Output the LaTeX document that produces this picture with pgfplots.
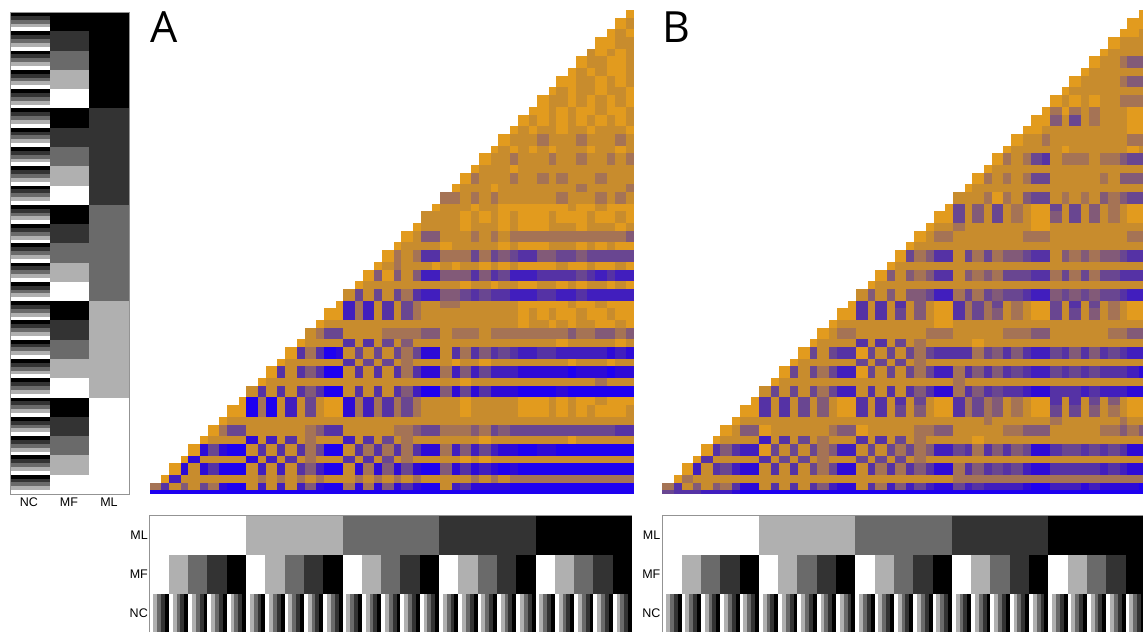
\documentclass[border=0pt]{standalone}
\usepackage{fontspec}
\setmainfont{Liberation Sans}
\newfontfamily\lettfont{Open Sans}
\usepackage{pgfplots}
\usepackage{pgfplotstable}
\pgfplotsset{compat=1.18}
\pgfdeclareplotmark{cell}{\pgfpathrectangle{\pgfqpoint{0pt}{0pt}}{\pgfpoint{\cw pt}{\hh pt}}\pgfusepathqfill}
\pgfplotsset{
  cmap ob/.style={colormap={ob}{rgb255=(30,0,240) rgb255=(45,10,215) rgb255=(65,30,190) rgb255=(85,50,165) rgb255=(105,70,145) rgb255=(130,90,120) rgb255=(165,115,85) rgb255=(200,140,45) rgb255=(226,155,30)},point meta min=0,point meta max=8},
  cmap gy/.style={colormap={gy}{rgb255=(255,255,255) rgb255=(176,176,176) rgb255=(106,106,106) rgb255=(51,51,51) rgb255=(0,0,0)},point meta min=0,point meta max=4},
}
% levels of the three factors, one line per index 0..124: NC MF ML
\pgfplotstableread[header=false]{
0 0 0
1 0 0
2 0 0
3 0 0
4 0 0
0 1 0
1 1 0
2 1 0
3 1 0
4 1 0
0 2 0
1 2 0
2 2 0
3 2 0
4 2 0
0 3 0
1 3 0
2 3 0
3 3 0
4 3 0
0 4 0
1 4 0
2 4 0
3 4 0
4 4 0
0 0 1
1 0 1
2 0 1
3 0 1
4 0 1
0 1 1
1 1 1
2 1 1
3 1 1
4 1 1
0 2 1
1 2 1
2 2 1
3 2 1
4 2 1
0 3 1
1 3 1
2 3 1
3 3 1
4 3 1
0 4 1
1 4 1
2 4 1
3 4 1
4 4 1
0 0 2
1 0 2
2 0 2
3 0 2
4 0 2
0 1 2
1 1 2
2 1 2
3 1 2
4 1 2
0 2 2
1 2 2
2 2 2
3 2 2
4 2 2
0 3 2
1 3 2
2 3 2
3 3 2
4 3 2
0 4 2
1 4 2
2 4 2
3 4 2
4 4 2
0 0 3
1 0 3
2 0 3
3 0 3
4 0 3
0 1 3
1 1 3
2 1 3
3 1 3
4 1 3
0 2 3
1 2 3
2 2 3
3 2 3
4 2 3
0 3 3
1 3 3
2 3 3
3 3 3
4 3 3
0 4 3
1 4 3
2 4 3
3 4 3
4 4 3
0 0 4
1 0 4
2 0 4
3 0 4
4 0 4
0 1 4
1 1 4
2 1 4
3 1 4
4 1 4
0 2 4
1 2 4
2 2 4
3 2 4
4 2 4
0 3 4
1 3 4
2 3 4
3 3 4
4 3 4
0 4 4
1 4 4
2 4 4
3 4 4
4 4 4
}\levels
% columns: bottom row, rows covered, then 50 column bands (0 blue .. 8 orange; 9 = above the diagonal, not drawn)
\pgfplotstableread[header=false]{
123 2 9 9 9 9 9 9 9 9 9 9 9 9 9 9 9 9 9 9 9 9 9 9 9 9 9 9 9 9 9 9 9 9 9 9 9 9 9 9 9 9 9 9 9 9 9 9 9 9 9 8
120 3 9 9 9 9 9 9 9 9 9 9 9 9 9 9 9 9 9 9 9 9 9 9 9 9 9 9 9 9 9 9 9 9 9 9 9 9 9 9 9 9 9 9 9 9 9 9 9 9 8 7
118 2 9 9 9 9 9 9 9 9 9 9 9 9 9 9 9 9 9 9 9 9 9 9 9 9 9 9 9 9 9 9 9 9 9 9 9 9 9 9 9 9 9 9 9 9 9 9 9 8 7 8
115 3 9 9 9 9 9 9 9 9 9 9 9 9 9 9 9 9 9 9 9 9 9 9 9 9 9 9 9 9 9 9 9 9 9 9 9 9 9 9 9 9 9 9 9 9 9 9 8 8 7 7
113 2 9 9 9 9 9 9 9 9 9 9 9 9 9 9 9 9 9 9 9 9 9 9 9 9 9 9 9 9 9 9 9 9 9 9 9 9 9 9 9 9 9 9 9 9 9 7 8 7 8 7
110 3 9 9 9 9 9 9 9 9 9 9 9 9 9 9 9 9 9 9 9 9 9 9 9 9 9 9 9 9 9 9 9 9 9 9 9 9 9 9 9 9 9 9 9 9 8 7 7 8 8 7
108 2 9 9 9 9 9 9 9 9 9 9 9 9 9 9 9 9 9 9 9 9 9 9 9 9 9 9 9 9 9 9 9 9 9 9 9 9 9 9 9 9 9 9 9 8 7 8 7 8 8 7
105 3 9 9 9 9 9 9 9 9 9 9 9 9 9 9 9 9 9 9 9 9 9 9 9 9 9 9 9 9 9 9 9 9 9 9 9 9 9 9 9 9 9 9 8 8 7 7 8 7 8 7
103 2 9 9 9 9 9 9 9 9 9 9 9 9 9 9 9 9 9 9 9 9 9 9 9 9 9 9 9 9 9 9 9 9 9 9 9 9 9 9 9 9 9 8 7 8 7 7 8 7 7 8
100 3 9 9 9 9 9 9 9 9 9 9 9 9 9 9 9 9 9 9 9 9 9 9 9 9 9 9 9 9 9 9 9 9 9 9 9 9 9 9 9 9 8 7 7 8 7 8 7 8 7 8
98 2 9 9 9 9 9 9 9 9 9 9 9 9 9 9 9 9 9 9 9 9 9 9 9 9 9 9 9 9 9 9 9 9 9 9 9 9 9 9 9 8 8 7 8 7 8 8 7 8 8 7
95 3 9 9 9 9 9 9 9 9 9 9 9 9 9 9 9 9 9 9 9 9 9 9 9 9 9 9 9 9 9 9 9 9 9 9 9 9 9 9 8 7 8 7 8 7 8 7 8 7 8 7
93 2 9 9 9 9 9 9 9 9 9 9 9 9 9 9 9 9 9 9 9 9 9 9 9 9 9 9 9 9 9 9 9 9 9 9 9 9 9 8 7 8 7 7 8 7 7 8 7 7 7 8
90 3 9 9 9 9 9 9 9 9 9 9 9 9 9 9 9 9 9 9 9 9 9 9 9 9 9 9 9 9 9 9 9 9 9 9 9 9 8 7 7 7 6 7 7 7 6 7 7 7 6 7
88 2 9 9 9 9 9 9 9 9 9 9 9 9 9 9 9 9 9 9 9 9 9 9 9 9 9 9 9 9 9 9 9 9 9 9 9 8 7 8 7 8 7 8 7 7 7 8 7 7 8 7
85 3 9 9 9 9 9 9 9 9 9 9 9 9 9 9 9 9 9 9 9 9 9 9 9 9 9 9 9 9 9 9 9 9 9 9 8 7 7 6 7 7 7 6 7 7 6 7 7 6 7 6
83 2 9 9 9 9 9 9 9 9 9 9 9 9 9 9 9 9 9 9 9 9 9 9 9 9 9 9 9 9 9 9 9 9 9 8 7 7 7 8 7 7 7 7 7 7 7 7 7 7 7 7
80 3 9 9 9 9 9 9 9 9 9 9 9 9 9 9 9 9 9 9 9 9 9 9 9 9 9 9 9 9 9 9 9 9 8 6 7 7 7 6 7 7 6 7 6 7 7 7 6 7 7 7
78 2 9 9 9 9 9 9 9 9 9 9 9 9 9 9 9 9 9 9 9 9 9 9 9 9 9 9 9 9 9 9 9 8 7 7 7 8 7 7 7 7 7 7 7 7 6 7 7 7 7 6
75 3 9 9 9 9 9 9 9 9 9 9 9 9 9 9 9 9 9 9 9 9 9 9 9 9 9 9 9 9 9 9 6 6 7 6 7 6 7 7 7 7 7 7 6 7 7 7 6 7 6 7
73 2 9 9 9 9 9 9 9 9 9 9 9 9 9 9 9 9 9 9 9 9 9 9 9 9 9 9 9 9 9 8 7 7 7 8 7 7 8 8 8 8 8 8 8 7 8 8 7 8 8 8
70 3 9 9 9 9 9 9 9 9 9 9 9 9 9 9 9 9 9 9 9 9 9 9 9 9 9 9 9 9 7 7 7 7 8 7 8 7 8 7 8 8 8 7 8 8 8 7 8 8 7 8
68 2 9 9 9 9 9 9 9 9 9 9 9 9 9 9 9 9 9 9 9 9 9 9 9 9 9 9 9 8 7 7 7 7 8 7 7 7 8 7 8 8 8 7 7 7 8 7 7 7 8 7
65 3 9 9 9 9 9 9 9 9 9 9 9 9 9 9 9 9 9 9 9 9 9 9 9 9 9 9 8 7 5 5 7 7 7 6 7 6 7 6 6 6 6 6 6 6 6 6 6 6 6 5
63 2 9 9 9 9 9 9 9 9 9 9 9 9 9 9 9 9 9 9 9 9 9 9 9 9 9 8 7 7 7 7 8 7 7 7 7 7 8 7 8 8 8 7 7 7 8 7 8 7 8 8
60 3 9 9 9 9 9 9 9 9 9 9 9 9 9 9 9 9 9 9 9 9 9 9 9 9 8 6 7 6 3 3 6 6 6 4 6 4 5 4 3 3 5 5 4 4 5 4 4 4 4 4
58 2 9 9 9 9 9 9 9 9 9 9 9 9 9 9 9 9 9 9 9 9 9 9 9 8 7 6 7 7 7 8 7 8 7 7 8 7 8 7 8 8 8 8 7 8 8 7 8 8 7 8
55 3 9 9 9 9 9 9 9 9 9 9 9 9 9 9 9 9 9 9 9 9 9 9 8 5 8 5 7 5 2 2 5 5 5 3 5 3 4 2 2 2 3 3 3 3 4 3 2 3 2 2
53 2 9 9 9 9 9 9 9 9 9 9 9 9 9 9 9 9 9 9 9 9 9 8 7 7 7 7 7 7 7 7 7 7 8 7 7 8 7 7 8 8 7 7 8 7 8 7 7 8 7 8
50 3 9 9 9 9 9 9 9 9 9 9 9 9 9 9 9 9 9 9 9 9 7 4 7 4 7 4 6 3 2 2 5 5 4 3 4 3 3 2 2 2 3 3 2 2 3 2 2 2 2 2
48 2 9 9 9 9 9 9 9 9 9 9 9 9 9 9 9 9 9 9 9 8 2 6 2 7 3 7 4 6 7 7 6 6 7 7 7 7 7 7 8 8 8 8 8 7 8 8 7 8 8 8
45 3 9 9 9 9 9 9 9 9 9 9 9 9 9 9 9 9 9 9 8 8 2 6 2 7 3 7 4 6 7 7 7 7 7 7 7 7 7 7 8 7 8 7 8 8 7 8 8 7 8 8
43 2 9 9 9 9 9 9 9 9 9 9 9 9 9 9 9 9 9 8 7 7 7 7 7 7 7 7 7 7 7 7 7 7 7 7 7 7 7 7 8 7 7 8 7 8 7 7 8 8 7 8
40 3 9 9 9 9 9 9 9 9 9 9 9 9 9 9 9 9 7 6 4 4 7 7 7 7 6 6 6 6 5 5 7 6 6 6 7 6 6 6 6 6 6 6 6 5 6 6 5 5 6 5
38 2 9 9 9 9 9 9 9 9 9 9 9 9 9 9 9 8 7 7 7 7 3 7 3 7 4 7 5 7 7 7 7 7 7 7 7 7 7 7 7 7 7 7 8 7 7 7 7 7 8 7
35 3 9 9 9 9 9 9 9 9 9 9 9 9 9 9 8 3 6 3 0 1 7 4 7 4 7 4 6 4 1 1 7 3 6 3 5 3 4 3 2 2 3 3 2 2 2 2 2 1 2 1
33 2 9 9 9 9 9 9 9 9 9 9 9 9 9 8 7 7 7 7 7 7 3 7 4 7 4 7 6 7 7 7 7 8 7 7 8 7 7 7 7 7 7 7 7 8 7 7 7 8 7 7
30 3 9 9 9 9 9 9 9 9 9 9 9 9 8 3 7 3 5 3 0 0 7 3 7 3 7 3 6 3 1 1 6 2 5 2 4 2 2 2 1 1 1 1 1 0 1 1 1 0 1 1
28 2 9 9 9 9 9 9 9 9 9 9 9 8 7 7 7 7 7 7 7 7 7 7 7 7 7 7 7 7 7 7 7 7 8 7 7 7 7 7 7 7 7 7 7 7 7 7 6 7 7 7
25 3 9 9 9 9 9 9 9 9 9 9 7 3 7 3 7 3 5 3 0 0 7 3 7 3 7 3 5 2 0 0 5 1 4 1 3 1 1 1 0 0 0 0 1 0 0 0 0 0 0 0
23 2 9 9 9 9 9 9 9 9 9 8 0 6 0 7 2 7 4 7 8 8 1 6 2 6 3 6 4 6 7 7 7 7 8 7 7 7 7 7 8 8 8 7 8 7 8 8 7 8 8 8
20 3 9 9 9 9 9 9 9 9 8 8 0 6 0 7 2 7 4 7 8 8 1 6 2 6 3 6 4 6 7 7 7 7 8 7 7 7 7 7 8 8 8 7 8 7 8 7 8 8 8 7
18 2 9 9 9 9 9 9 9 8 7 7 7 7 7 7 7 7 7 7 7 7 7 7 7 7 7 7 7 7 7 7 7 7 7 7 7 7 7 7 7 7 7 7 7 7 7 7 7 7 7 7
15 3 9 9 9 9 9 9 8 6 4 4 7 7 7 7 7 7 6 5 3 3 7 7 7 7 7 6 6 5 4 4 6 6 6 5 6 4 5 4 4 4 4 4 4 4 4 4 4 4 3 3
13 2 9 9 9 9 9 8 7 7 7 7 1 7 2 7 3 7 6 7 7 7 2 7 3 7 4 7 6 7 7 7 7 7 7 7 8 7 7 7 7 7 7 7 7 8 7 7 7 7 7 7
10 3 9 9 9 9 8 1 4 1 0 0 7 3 7 3 7 3 6 4 0 0 7 3 6 3 6 3 6 3 1 1 6 2 5 2 4 2 1 1 0 0 1 1 0 0 0 0 0 0 0 0
8 2 9 9 9 8 1 7 7 7 7 7 1 7 2 7 3 7 6 7 7 7 3 7 3 7 4 7 6 7 7 7 7 7 8 7 8 7 7 7 7 7 7 7 7 7 7 7 7 7 7 7
5 3 9 9 8 1 7 1 3 0 0 0 7 2 7 2 7 3 5 2 0 0 7 1 6 1 5 1 4 1 0 0 5 1 3 1 2 1 0 1 0 0 0 0 0 0 0 0 0 0 0 0
3 2 9 8 2 7 7 7 7 7 7 7 7 6 7 6 7 6 7 6 7 7 7 6 7 6 7 6 7 6 7 7 7 7 7 6 7 6 7 6 6 6 6 6 6 6 6 6 6 6 6 6
1 2 6 3 7 5 7 4 6 1 0 0 7 2 7 2 7 2 5 1 0 0 6 1 6 1 5 1 3 1 0 0 7 2 3 1 1 1 1 0 0 0 0 0 0 0 0 0 0 0 0 0
0 1 0 0 0 0 0 0 0 0 0 0 0 0 0 0 0 0 0 0 0 0 0 0 0 0 0 0 0 0 0 0 0 0 0 0 0 0 0 0 0 0 0 0 0 0 0 0 0 0 0 0
}\tblA
\pgfplotstableread[header=false]{
123 2 9 9 9 9 9 9 9 9 9 9 9 9 9 9 9 9 9 9 9 9 9 9 9 9 9 9 9 9 9 9 9 9 9 9 9 9 9 9 9 9 9 9 9 9 9 9 9 9 9 8
120 3 9 9 9 9 9 9 9 9 9 9 9 9 9 9 9 9 9 9 9 9 9 9 9 9 9 9 9 9 9 9 9 9 9 9 9 9 9 9 9 9 9 9 9 9 9 9 9 9 8 8
118 2 9 9 9 9 9 9 9 9 9 9 9 9 9 9 9 9 9 9 9 9 9 9 9 9 9 9 9 9 9 9 9 9 9 9 9 9 9 9 9 9 9 9 9 9 9 9 9 8 8 7
115 3 9 9 9 9 9 9 9 9 9 9 9 9 9 9 9 9 9 9 9 9 9 9 9 9 9 9 9 9 9 9 9 9 9 9 9 9 9 9 9 9 9 9 9 9 9 9 8 7 7 7
113 2 9 9 9 9 9 9 9 9 9 9 9 9 9 9 9 9 9 9 9 9 9 9 9 9 9 9 9 9 9 9 9 9 9 9 9 9 9 9 9 9 9 9 9 9 9 8 7 7 7 7
110 3 9 9 9 9 9 9 9 9 9 9 9 9 9 9 9 9 9 9 9 9 9 9 9 9 9 9 9 9 9 9 9 9 9 9 9 9 9 9 9 9 9 9 9 9 8 7 7 6 5 5
108 2 9 9 9 9 9 9 9 9 9 9 9 9 9 9 9 9 9 9 9 9 9 9 9 9 9 9 9 9 9 9 9 9 9 9 9 9 9 9 9 9 9 9 9 8 7 7 7 7 7 7
105 3 9 9 9 9 9 9 9 9 9 9 9 9 9 9 9 9 9 9 9 9 9 9 9 9 9 9 9 9 9 9 9 9 9 9 9 9 9 9 9 9 9 9 8 7 7 7 7 6 5 5
103 2 9 9 9 9 9 9 9 9 9 9 9 9 9 9 9 9 9 9 9 9 9 9 9 9 9 9 9 9 9 9 9 9 9 9 9 9 9 9 9 9 9 8 7 7 7 7 7 7 7 7
100 3 9 9 9 9 9 9 9 9 9 9 9 9 9 9 9 9 9 9 9 9 9 9 9 9 9 9 9 9 9 9 9 9 9 9 9 9 9 9 9 9 8 7 8 7 8 7 7 6 6 6
98 2 9 9 9 9 9 9 9 9 9 9 9 9 9 9 9 9 9 9 9 9 9 9 9 9 9 9 9 9 9 9 9 9 9 9 9 9 9 9 9 8 6 8 6 7 6 7 7 7 8 8
95 3 9 9 9 9 9 9 9 9 9 9 9 9 9 9 9 9 9 9 9 9 9 9 9 9 9 9 9 9 9 9 9 9 9 9 9 9 9 9 8 8 5 7 4 7 6 7 7 7 8 8
93 2 9 9 9 9 9 9 9 9 9 9 9 9 9 9 9 9 9 9 9 9 9 9 9 9 9 9 9 9 9 9 9 9 9 9 9 9 9 8 8 7 7 7 7 7 7 7 7 7 8 8
90 3 9 9 9 9 9 9 9 9 9 9 9 9 9 9 9 9 9 9 9 9 9 9 9 9 9 9 9 9 9 9 9 9 9 9 9 9 8 7 7 6 7 7 7 7 7 7 7 7 6 6
88 2 9 9 9 9 9 9 9 9 9 9 9 9 9 9 9 9 9 9 9 9 9 9 9 9 9 9 9 9 9 9 9 9 9 9 9 8 7 7 7 7 7 8 7 7 7 7 7 7 8 7
85 3 9 9 9 9 9 9 9 9 9 9 9 9 9 9 9 9 9 9 9 9 9 9 9 9 9 9 9 9 9 9 9 9 9 9 8 6 7 6 4 3 7 6 6 6 7 6 6 5 4 4
83 2 9 9 9 9 9 9 9 9 9 9 9 9 9 9 9 9 9 9 9 9 9 9 9 9 9 9 9 9 9 9 9 9 9 8 7 7 7 7 7 7 7 7 7 7 7 7 7 7 7 7
80 3 9 9 9 9 9 9 9 9 9 9 9 9 9 9 9 9 9 9 9 9 9 9 9 9 9 9 9 9 9 9 9 9 8 6 7 6 7 6 4 4 7 7 7 7 7 6 7 5 5 5
78 2 9 9 9 9 9 9 9 9 9 9 9 9 9 9 9 9 9 9 9 9 9 9 9 9 9 9 9 9 9 9 9 8 7 7 7 7 7 7 7 7 7 7 7 7 7 7 7 7 7 7
75 3 9 9 9 9 9 9 9 9 9 9 9 9 9 9 9 9 9 9 9 9 9 9 9 9 9 9 9 9 9 9 7 7 7 6 8 6 7 5 4 4 7 6 7 6 7 5 6 5 4 4
73 2 9 9 9 9 9 9 9 9 9 9 9 9 9 9 9 9 9 9 9 9 9 9 9 9 9 9 9 9 9 8 4 7 5 7 4 7 6 7 8 8 4 7 4 7 5 7 6 7 8 8
70 3 9 9 9 9 9 9 9 9 9 9 9 9 9 9 9 9 9 9 9 9 9 9 9 9 9 9 9 9 8 8 4 7 5 7 4 7 6 7 8 8 5 7 4 7 5 7 6 7 8 8
68 2 9 9 9 9 9 9 9 9 9 9 9 9 9 9 9 9 9 9 9 9 9 9 9 9 9 9 9 8 7 7 6 7 7 7 7 7 7 7 8 8 7 7 7 7 7 7 7 7 7 7
65 3 9 9 9 9 9 9 9 9 9 9 9 9 9 9 9 9 9 9 9 9 9 9 9 9 9 9 8 7 6 6 7 7 7 7 7 7 7 6 6 6 7 7 7 7 7 7 7 7 6 6
63 2 9 9 9 9 9 9 9 9 9 9 9 9 9 9 9 9 9 9 9 9 9 9 9 9 9 8 7 7 7 7 7 7 7 7 7 7 7 7 7 7 7 7 7 7 7 7 7 7 7 7
60 3 9 9 9 9 9 9 9 9 9 9 9 9 9 9 9 9 9 9 9 9 9 9 9 9 8 4 6 5 3 3 7 4 6 4 6 5 5 4 3 3 7 5 6 5 6 5 5 4 3 3
58 2 9 9 9 9 9 9 9 9 9 9 9 9 9 9 9 9 9 9 9 9 9 9 9 8 7 7 7 7 7 7 7 7 7 7 7 7 7 7 7 7 7 7 7 7 7 7 7 7 7 7
55 3 9 9 9 9 9 9 9 9 9 9 9 9 9 9 9 9 9 9 9 9 9 9 8 5 7 5 6 5 3 3 7 5 6 5 6 4 4 4 3 3 6 4 6 4 6 4 4 3 3 3
53 2 9 9 9 9 9 9 9 9 9 9 9 9 9 9 9 9 9 9 9 9 9 8 7 7 7 7 7 7 7 7 7 7 7 7 7 7 7 7 7 7 7 7 7 7 7 7 7 7 7 7
50 3 9 9 9 9 9 9 9 9 9 9 9 9 9 9 9 9 9 9 9 9 7 5 7 5 7 5 5 4 2 2 6 4 6 4 5 4 4 3 2 2 5 4 5 4 5 4 4 3 2 2
48 2 9 9 9 9 9 9 9 9 9 9 9 9 9 9 9 9 9 9 9 8 3 7 3 7 3 7 5 7 8 8 3 6 4 6 4 7 6 7 8 8 4 7 3 7 4 7 6 7 8 8
45 3 9 9 9 9 9 9 9 9 9 9 9 9 9 9 9 9 9 9 8 8 3 7 3 7 4 7 5 7 8 8 3 6 4 6 5 7 6 7 8 8 4 7 4 7 5 7 6 7 8 8
43 2 9 9 9 9 9 9 9 9 9 9 9 9 9 9 9 9 9 8 7 7 7 7 7 7 7 7 7 7 8 8 7 7 7 7 7 7 7 7 7 7 7 7 7 7 7 7 7 7 7 7
40 3 9 9 9 9 9 9 9 9 9 9 9 9 9 9 9 9 8 7 6 6 7 7 7 7 7 7 7 6 6 6 7 7 7 7 7 6 6 6 5 5 7 7 7 7 7 7 6 6 5 5
38 2 9 9 9 9 9 9 9 9 9 9 9 9 9 9 9 8 7 7 7 7 3 7 3 7 4 7 6 7 7 7 7 7 8 7 7 7 7 7 7 7 7 7 7 7 7 7 7 7 7 7
35 3 9 9 9 9 9 9 9 9 9 9 9 9 9 9 8 4 7 4 3 3 8 4 7 4 7 4 6 4 3 3 3 3 6 4 5 3 5 3 2 2 4 3 5 3 5 3 4 3 2 2
33 2 9 9 9 9 9 9 9 9 9 9 9 9 9 8 7 7 7 7 7 7 4 7 4 7 4 7 6 7 7 7 7 7 7 7 7 7 7 7 7 7 7 7 7 7 7 7 7 7 7 7
30 3 9 9 9 9 9 9 9 9 9 9 9 9 8 4 7 4 6 4 2 2 8 4 7 4 7 4 6 4 2 2 6 3 5 3 5 3 4 3 2 2 4 3 4 3 4 3 3 3 2 1
28 2 9 9 9 9 9 9 9 9 9 9 9 8 7 7 7 7 7 7 7 7 7 7 7 7 7 7 7 7 7 7 6 7 7 7 7 7 7 7 7 7 7 7 7 7 7 7 7 7 7 7
25 3 9 9 9 9 9 9 9 9 9 9 7 4 7 4 7 4 6 4 2 2 7 3 7 3 7 3 5 3 1 1 6 3 5 3 4 3 3 2 1 1 3 3 3 2 3 2 2 2 1 1
23 2 9 9 9 9 9 9 9 9 9 8 3 7 3 7 4 7 5 7 8 8 3 7 3 7 3 7 4 7 8 8 3 6 4 6 5 7 6 7 8 8 3 7 3 7 4 7 5 7 8 8
20 3 9 9 9 9 9 9 9 9 8 8 3 7 3 7 4 7 5 7 8 8 3 7 3 7 4 7 5 7 8 8 3 6 4 6 5 7 6 7 8 8 4 7 4 7 5 7 6 7 8 8
18 2 9 9 9 9 9 9 9 8 7 7 7 7 7 7 7 7 7 7 7 7 7 7 7 7 7 7 7 7 7 7 7 7 7 6 7 7 7 7 7 7 6 7 7 7 7 7 7 6 7 7
15 3 9 9 9 9 9 9 8 7 5 5 8 7 7 7 7 7 7 6 5 5 8 7 7 7 7 7 6 6 5 5 7 7 7 7 7 6 6 5 5 5 7 7 7 7 7 6 6 5 6 5
13 2 9 9 9 9 9 8 7 7 7 7 2 7 3 7 4 7 6 7 7 7 3 7 3 7 4 7 6 7 7 7 7 7 8 7 7 7 7 7 7 7 7 7 7 7 7 7 7 7 7 7
10 3 9 9 9 9 8 3 5 3 2 2 8 4 7 4 7 4 6 5 2 2 7 4 7 4 6 4 6 5 2 2 4 3 6 3 5 3 5 4 1 1 3 4 4 3 4 3 4 3 1 1
8 2 9 9 9 8 3 7 7 7 7 7 3 7 4 7 4 7 6 7 7 7 4 7 4 7 4 7 6 7 7 7 7 7 7 7 7 7 7 7 7 7 7 7 7 7 7 7 7 7 7 7
5 3 9 9 8 2 7 3 4 2 1 1 7 3 7 3 7 4 6 4 1 1 7 3 6 3 6 3 5 3 1 1 6 3 5 3 4 3 4 2 1 1 3 3 3 3 3 2 3 2 1 1
3 2 9 8 6 7 7 7 7 7 7 7 7 7 7 7 7 7 7 7 7 7 7 7 7 7 7 7 7 7 7 7 6 6 6 6 6 6 6 6 6 6 6 6 6 6 6 6 6 6 6 6
1 2 6 3 7 5 7 5 6 3 1 1 7 3 7 3 7 3 5 2 1 1 7 3 6 2 5 2 4 2 1 1 4 2 3 2 2 2 2 1 0 0 2 2 2 1 2 1 1 1 1 0
0 1 4 3 3 3 2 2 2 1 0 0 0 0 0 0 0 0 0 0 0 0 0 0 0 0 0 0 0 0 0 0 0 0 0 0 0 0 0 0 0 0 0 0 0 0 0 0 0 0 0 0
}\tblB
\pgfplotsset{
  bare/.style={scale only axis,anchor=south west,axis lines=none,clip=false},
  cells/.style 2 args={scatter,only marks,mark=cell,point meta=explicit,unbounded coords=discard,
    visualization depends on={#1 \as \cw},visualization depends on={#2 \as \hh}},
}
% one column band: table column, left column number, width in columns, table
\newcommand{\bandplot}[4]{%
  \addplot[cells={3.876*#3}{3.875*\thisrowno{1}}]
    table[x expr={\thisrowno{#1}>8.5?nan:#2},y index=0,meta index=#1]{#4};}
\newcommand{\heat}[2]{%
\begin{axis}[bare,cmap ob,at={(#1pt,137.7pt)},width=484.5pt,height=484.3pt,xmin=0,xmax=125,ymin=0,ymax=125]
\pgfplotsinvokeforeach{2,...,51}{
  \pgfmathtruncatemacro\bx{int((##1-2)/2)*5+(int(##1/2)*2==##1?0:3)}
  \pgfmathtruncatemacro\bw{int(##1/2)*2==##1?3:2}
  \edef\tmp{\noexpand\bandplot{##1}{\bx}{\bw}{\noexpand#2}}\tmp
}
\pgfplotsinvokeforeach{0,...,124}{
  \fill[white] (axis cs:##1,##1+1) rectangle (axis cs:##1+1,##1+7);
}
\end{axis}}
\newcommand{\strip}[1]{%
\begin{axis}[bare,cmap gy,at={(#1pt,0pt)},width=482.5pt,height=117pt,xmin=0,xmax=125,ymin=0,ymax=117]
\addplot[cells={3.86}{38}] table[x expr=\coordindex,y expr=0,meta index=0]{\levels};
\addplot[cells={3.86}{39}] table[x expr=\coordindex,y expr=38,meta index=1]{\levels};
\addplot[cells={3.86}{40}] table[x expr=\coordindex,y expr=77,meta index=2]{\levels};
\end{axis}}
\begin{document}
\begin{tikzpicture}[x=1pt,y=1pt,inner sep=0pt]
\useasboundingbox (0,0) rectangle (1143,632);
\heat{149.5}{\tblA}
\heat{662.3}{\tblB}
\begin{axis}[bare,cmap gy,at={(10pt,138pt)},width=119pt,height=482pt,xmin=0,xmax=119,ymin=0,ymax=125]
\addplot[cells={39.5}{3.856}] table[x expr=0,y expr=\coordindex,meta index=0]{\levels};
\addplot[cells={39.5}{3.856}] table[x expr=39.5,y expr=\coordindex,meta index=1]{\levels};
\addplot[cells={40}{3.856}] table[x expr=79,y expr=\coordindex,meta index=2]{\levels};
\end{axis}
\draw[gray!85,line width=0.8pt] (10,138) rectangle (129,620);
\strip{149.5}
\strip{662.3}
\draw[gray!85,line width=0.8pt] (149.5,0) -- (149.5,117) -- (632,117);
\draw[gray!85,line width=0.8pt] (662.3,0) -- (662.3,117) -- (1143,117);
\node[anchor=base,font=\lettfont\fontsize{43}{43}\selectfont] at (164.5,589) {A};
\node[anchor=base,font=\lettfont\fontsize{43}{43}\selectfont] at (676,589) {B};
\foreach \t/\x in {NC/29,MF/69,ML/109} \node[font=\fontsize{12.5}{13}\selectfont] at (\x,130) {\t};
\foreach \X in {148,660.5} {
  \node[anchor=east,font=\fontsize{12.5}{13}\selectfont] at (\X,97) {ML};
  \node[anchor=east,font=\fontsize{12.5}{13}\selectfont] at (\X,58) {MF};
  \node[anchor=east,font=\fontsize{12.5}{13}\selectfont] at (\X,19) {NC};
}
\end{tikzpicture}
\end{document}
